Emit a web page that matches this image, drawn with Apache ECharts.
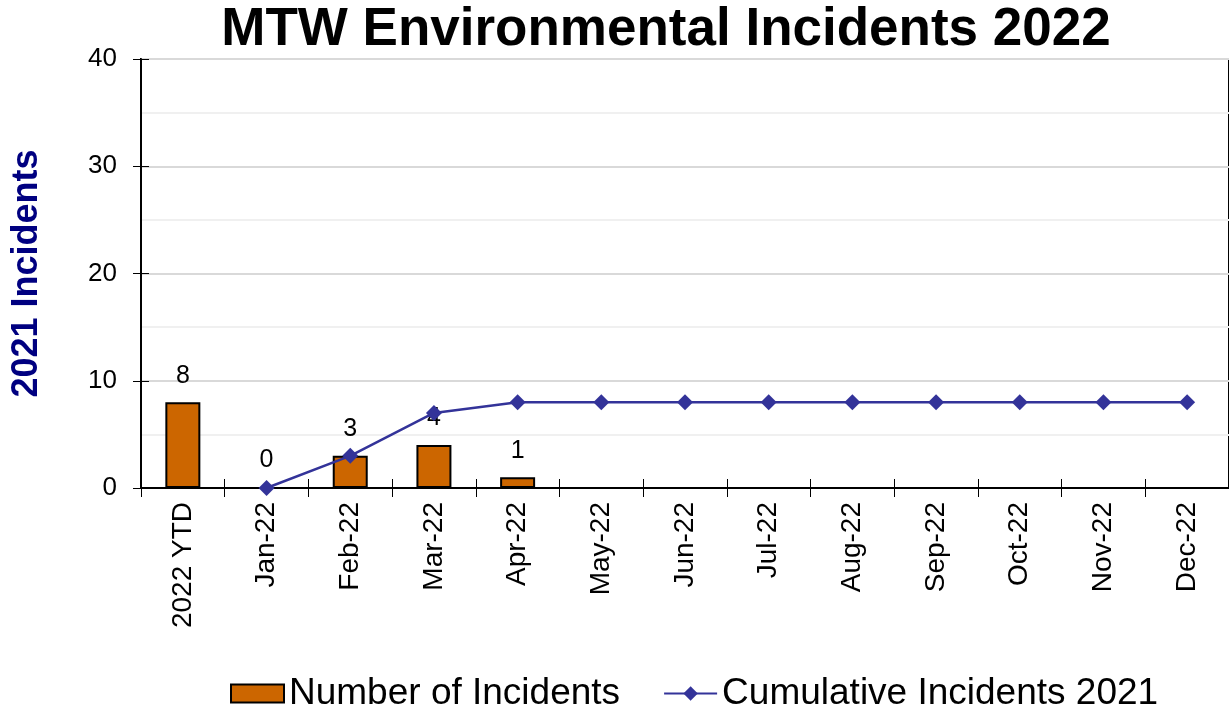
<!DOCTYPE html>
<html>
<head>
	<meta charset="utf-8">
	<title>MTW Environmental Incidents 2022</title>
	<script src="https://cdn.jsdelivr.net/npm/echarts@6/dist/echarts.min.js"></script>
	<style>
		html, body { margin: 0; padding: 0; background: #fff; }
		#main { width: 1229px; height: 710px; }
	</style>
</head>
<body>
	<div id="main"></div>
	<script type="text/javascript">
		// chart data
		var categories = ['2022 YTD', 'Jan-22', 'Feb-22', 'Mar-22', 'Apr-22', 'May-22', 'Jun-22',
			'Jul-22', 'Aug-22', 'Sep-22', 'Oct-22', 'Nov-22', 'Dec-22'];
		var incidents = [8, 0, 3, 4, 1, null, null, null, null, null, null, null, null];
		var cumulative2021 = [null, 0, 3, 7, 8, 8, 8, 8, 8, 8, 8, 8, 8];
		var yTicks = [0, 10, 20, 30, 40];

		var font = 'Liberation Sans, Arial, sans-serif';
		var myChart = echarts.init(document.getElementById('main'));

		var option = {
			backgroundColor: '#fff',
			animation: false,
			title: {
				text: 'MTW Environmental Incidents 2022',
				left: 666,
				textAlign: 'center',
				top: 4,
				padding: 0,
				textStyle: { fontFamily: font, fontSize: 53, fontWeight: 'bold', color: '#000' }
			},
			legend: {
				top: 675,
				left: 230,
				padding: 0,
				itemGap: 43,
				itemWidth: 53,
				itemHeight: 18,
				textStyle: { fontFamily: font, fontSize: 37, color: '#000' },
				data: [
					{ name: 'Number of Incidents', icon: 'rect' },
					{ name: 'Cumulative Incidents 2021' }
				]
			},
			grid: {
				left: 141,
				top: 59,
				width: 1092,
				height: 429,
				show: true,
				borderColor: '#000',
				borderWidth: 2
			},
			xAxis: [
				{
					type: 'category',
					data: categories,
					axisLine: { lineStyle: { color: '#000', width: 2 } },
					axisTick: { show: true, length: 9, lineStyle: { color: '#000', width: 1 } },
					axisLabel: {
						rotate: 90,
						margin: 14,
						fontFamily: font,
						fontSize: 28,
						color: '#000'
					}
				},
				{
					// inner half of the crossing ticks
					type: 'category',
					data: categories,
					position: 'bottom',
					axisLine: { show: false },
					axisTick: { show: true, inside: true, length: 9, lineStyle: { color: '#000', width: 1 } },
					axisLabel: { show: false }
				}
			],
			yAxis: [
				{
					type: 'value',
					min: yTicks[0],
					max: yTicks[yTicks.length - 1],
					interval: 10,
					name: '2021 Incidents',
					nameLocation: 'middle',
					nameGap: 96,
					nameTextStyle: { fontFamily: font, fontSize: 36, fontWeight: 'bold', color: '#000080' },
					axisLine: { show: true, lineStyle: { color: '#000', width: 2 } },
					axisTick: { show: true, length: 8, lineStyle: { color: '#000', width: 1 } },
					axisLabel: { margin: 24, fontFamily: font, fontSize: 26, color: '#000' },
					splitLine: { show: true, lineStyle: { color: '#d9d9d9', width: 2 } },
					minorTick: { show: false, splitNumber: 2 },
					minorSplitLine: { show: true, lineStyle: { color: '#f0f0f0', width: 2 } }
				},
				{
					type: 'value',
					min: yTicks[0],
					max: yTicks[yTicks.length - 1],
					interval: 10,
					position: 'left',
					axisLine: { show: false },
					axisTick: { show: true, inside: true, length: 8, lineStyle: { color: '#000', width: 1 } },
					axisLabel: { show: false },
					splitLine: { show: false }
				}
			],
			series: [
				{
					name: 'Number of Incidents',
					type: 'bar',
					data: incidents,
					barWidth: 35,
					itemStyle: { color: '#cc6600', borderColor: '#000', borderWidth: 2 },
					label: {
						show: true,
						position: 'top',
						distance: 14,
						fontFamily: font,
						fontSize: 25,
						color: '#000'
					}
				},
				{
					name: 'Cumulative Incidents 2021',
					type: 'line',
					data: cumulative2021,
					symbol: 'diamond',
					symbolSize: 16,
					color: '#333399',
					lineStyle: { color: '#333399', width: 2.5 },
					itemStyle: { color: '#333399' }
				}
			]
		};

		myChart.setOption(option);
	</script>
</body>
</html>
